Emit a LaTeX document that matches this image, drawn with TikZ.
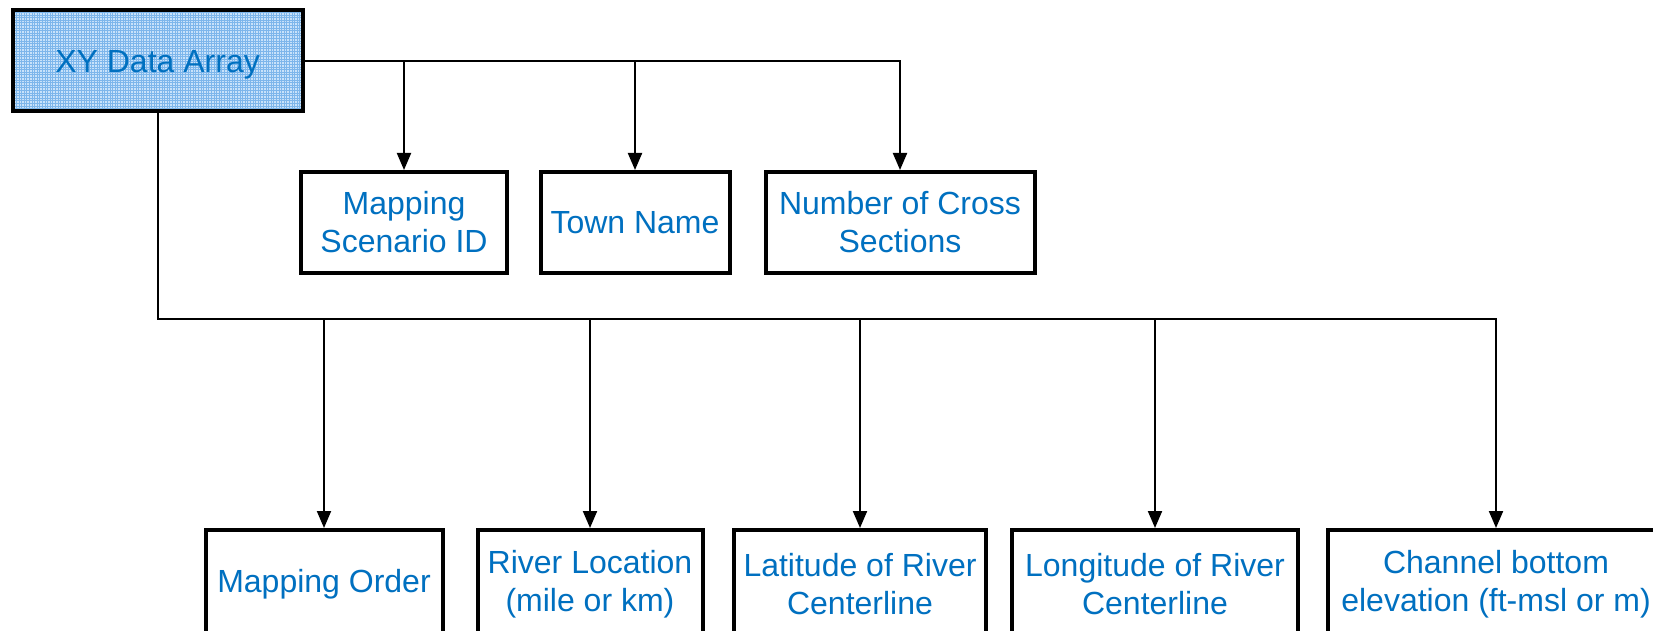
\documentclass[tikz,border=0pt]{standalone}
\usepackage{fontspec}
\setmainfont{Liberation Sans}
\usetikzlibrary{arrows.meta}
\definecolor{txtblue}{RGB}{0,112,192}
\definecolor{gridblue}{RGB}{125,182,235}
\definecolor{fillblue}{RGB}{200,226,250}
\begin{document}
\begin{tikzpicture}[x=1pt,y=-1pt,
  box/.style={draw=black, line width=4pt, fill=white, text=txtblue, align=center,
    inner sep=0pt, font=\fontsize{32}{38}\selectfont},
  conn/.style={draw=black, line width=2pt},
  arr/.style={conn, -{Triangle[length=17pt,width=14pt]}}]
\useasboundingbox (0,0) rectangle (1653,631);
% root
\node[box, fill=fillblue, minimum width=290pt, minimum height=101pt, text depth=0pt,
  path picture={\draw[gridblue, line width=0.5pt, step=2.6pt]
    (path picture bounding box.south west) grid (path picture bounding box.north east);}]
  (xy) at (157.6,61) {XY Data Array};
% top row
\node[box, minimum width=206pt, minimum height=101pt] (msid) at (404,222.5) {Mapping\\Scenario ID};
\node[box, minimum width=189pt, minimum height=101pt] (tn) at (635,222.5) {Town Name};
\node[box, minimum width=269pt, minimum height=101pt] (ncs) at (900,222.5) {Number of Cross\\Sections};
% bottom row
\node[box, minimum width=237pt, minimum height=108pt] (mo) at (324,584) {Mapping Order};
\node[box, minimum width=225pt, minimum height=108pt] (rl) at (590,584) {River Location\\(mile or km)};
\node[box, minimum width=252pt, minimum height=108pt] (lat) at (860,584) {Latitude of River\\Centerline};
\node[box, minimum width=286pt, minimum height=108pt] (lon) at (1155,584) {Longitude of River\\Centerline};
\node[box, minimum width=336pt, minimum height=108pt] (ch) at (1496,584) {Channel bottom\\elevation (ft-msl or m)};
% top connectors
\draw[arr] (xy.east) -| (ncs.north);
\draw[arr] (xy.east -| msid.north) -- (msid.north);
\draw[arr] (xy.east -| tn.north) -- (tn.north);
% bottom connectors
\coordinate (bus) at (157.6,319);
\draw[arr] (xy.south) -- (bus) -- (bus -| ch.north) -- (ch.north);
\draw[arr] (bus -| mo.north) -- (mo.north);
\draw[arr] (bus -| rl.north) -- (rl.north);
\draw[arr] (bus -| lat.north) -- (lat.north);
\draw[arr] (bus -| lon.north) -- (lon.north);
\end{tikzpicture}
\end{document}
